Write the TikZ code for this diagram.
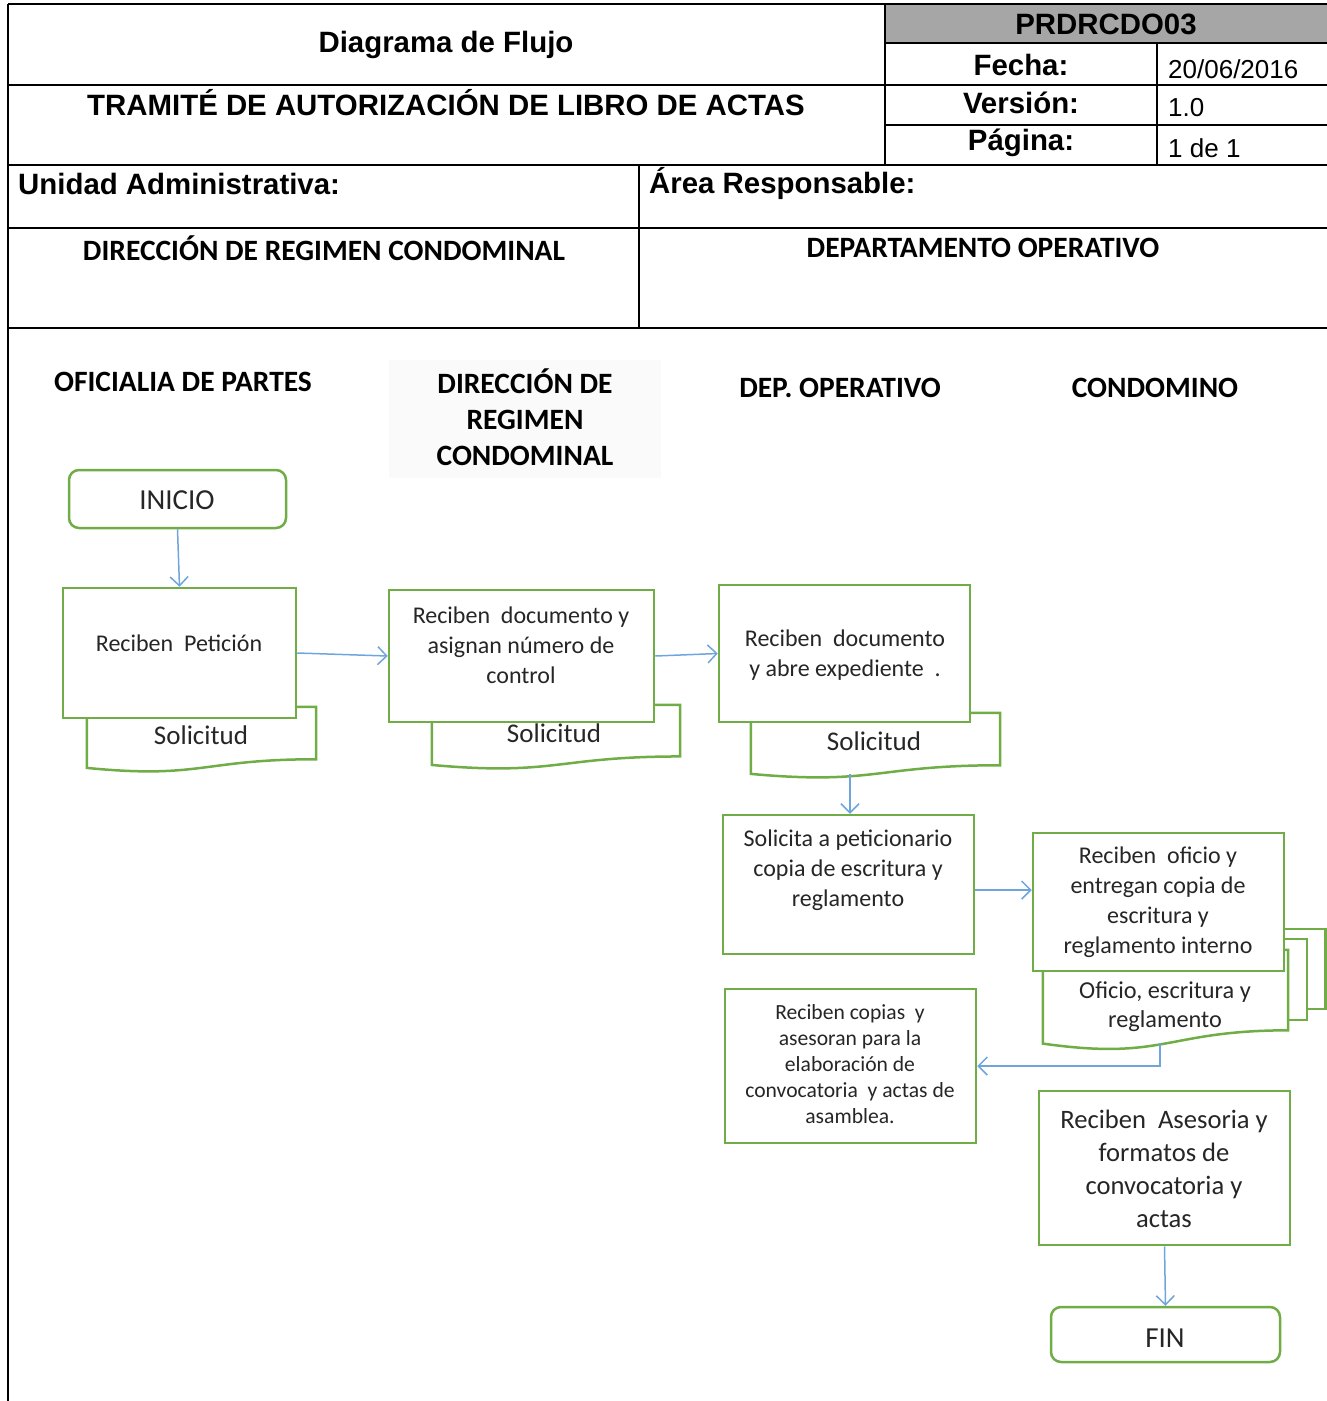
\documentclass[tikz,border=0pt]{standalone}
\usepackage{fontspec}
\setmainfont{Carlito}
\newfontfamily\arialf{Liberation Sans}
\usetikzlibrary{arrows.meta,calc}
\definecolor{fgreen}{RGB}{112,173,71}
\definecolor{fblue}{RGB}{110,165,220}
\definecolor{hgray}{RGB}{166,166,166}
\newcommand{\drawdoc}[1]{%
  \draw[docline] (#1.north west) -- (#1.north east)
    -- ($(#1.north east)!0.802!(#1.south east)$)
    .. controls ($(#1.north)!0.802!(#1.south)$) and ($(#1.north)!1.1075!(#1.south)$)
    .. ($(#1.north west)!0.934!(#1.south west)$) -- cycle;}
\tikzset{
  hline/.style={line width=2.2pt, draw=black},
  box/.style={rectangle, draw=fgreen, line width=2.5pt, fill=white, inner sep=0pt},
  term/.style={box, rounded corners=10pt},
  docbox/.style={rectangle, inner sep=0pt, draw=none},
  docline/.style={draw=fgreen, line width=2.5pt, fill=white},
  arr/.style={draw=fblue, line width=1.5pt, -{Straight Barb[length=9pt,width=18pt]}},
  btxt/.style={align=center, inner sep=0pt, text=black!85, font=\fontsize{24}{30}\selectfont},
  htxt/.style={inner sep=0pt, font=\arialf\bfseries\fontsize{29.4}{33}\selectfont},
  vtxt/.style={inner sep=0pt, anchor=west, font=\arialf\fontsize{26}{30}\selectfont},
  ctxt/.style={inner sep=0pt, font=\bfseries\fontsize{29.5}{30}\selectfont},
  coltxt/.style={inner sep=0pt, align=center, font=\bfseries\fontsize{29.5}{36}\selectfont}
}
\begin{document}
\begin{tikzpicture}[x=1pt,y=-1pt]
\useasboundingbox (0,0) rectangle (1327,1401);
% ---------- header table ----------
\fill[hgray] (885,4) rectangle (1327,43);
\draw[hline] (8,4) -- (1327,4);
\draw[hline] (8,4) -- (8,1401);
\draw[hline] (885,43) -- (1327,43);
\draw[hline] (8,85) -- (1327,85);
\draw[hline] (885,125) -- (1327,125);
\draw[hline] (8,165) -- (1327,165);
\draw[hline] (8,228) -- (1327,228);
\draw[hline] (8,328) -- (1327,328);
\draw[hline] (885,4) -- (885,165);
\draw[hline] (1157,43) -- (1157,165);
\draw[hline] (639,165) -- (639,328);
\node[htxt] (h1) at (446,45) {Diagrama de Flujo};
\node[htxt] (h2) at (446,103) {TRAMITÉ DE AUTORIZACIÓN DE LIBRO DE ACTAS};
\node[htxt] (h3) at (1106,24) {PRDRCDO03};
\node[htxt] (h4) at (1021,65) {Fecha:};
\node[htxt] (h5) at (1021,103) {Versión:};
\node[htxt] (h6) at (1021,143) {Página:};
\node[vtxt] (v1) at (1168,69) {20/06/2016};
\node[vtxt] (v2) at (1168,108) {1.0};
\node[vtxt] (v3) at (1168,148) {1 de 1};
\node[htxt, anchor=west] (h7) at (18,184) {Unidad Administrativa:};
\node[htxt, anchor=west] (h8) at (649,184) {Área Responsable:};
\node[ctxt] (c1) at (324,248) {DIRECCIÓN DE REGIMEN CONDOMINAL};
\node[ctxt] (c2) at (983,248) {DEPARTAMENTO OPERATIVO};
% ---------- lane titles ----------
\node[coltxt] (l1) at (183,382) {OFICIALIA DE PARTES};
\fill[black!2] (389,360) rectangle (661,478);
\node[coltxt] (l2) at (525,417) {DIRECCIÓN DE\\REGIMEN\\CONDOMINAL};
\node[coltxt] (l3) at (840,388) {DEP. OPERATIVO};
\node[coltxt] (l4) at (1155,388) {CONDOMINO};
% ---------- documents (behind boxes) ----------
\node[docbox, minimum width=229pt, minimum height=65pt] (d1) at (201.5,739.5) {};
\drawdoc{d1}
\node[docbox, minimum width=248pt, minimum height=64pt] (d2) at (556,737) {};
\drawdoc{d2}
\node[docbox, minimum width=249pt, minimum height=65pt] (d3) at (875.5,745.5) {};
\drawdoc{d3}
\node[box, minimum width=262.5pt, minimum height=80pt] (m1) at (1194.25,969) {};
\node[box, minimum width=254pt, minimum height=81pt] (m2) at (1180,979.5) {};
\node[docbox, minimum width=245pt, minimum height=100pt] (d5) at (1165.5,1000) {};
\drawdoc{d5}
\node[btxt, font=\fontsize{27}{30}\selectfont] (d1t) at (201,735) {Solicitud};
\node[btxt, font=\fontsize{27}{30}\selectfont] (d2t) at (554,733) {Solicitud};
\node[btxt, font=\fontsize{27}{30}\selectfont] (d3t) at (874,741) {Solicitud};
\node[btxt, font=\fontsize{24.3}{29}\selectfont] (d5t) at (1165,1007) {Oficio, escritura y\\reglamento};
% ---------- process boxes ----------
\node[term, minimum width=217pt, minimum height=58pt] (b0) at (177.5,499) {};
\node[btxt, font=\fontsize{29}{30}\selectfont] (b0t) at (177,500) {INICIO};
\node[box, minimum width=233pt, minimum height=130pt] (b1) at (179.5,653) {};
\node[btxt] (b1t) at (179,643) {Reciben\ \ Petición};
\node[box, minimum width=265pt, minimum height=132pt] (b2) at (521.5,656) {};
\node[btxt] (b2t) at (521,645) {Reciben\ \ documento y\\asignan número de\\control};
\node[box, minimum width=251pt, minimum height=137pt] (b3) at (844.5,653.5) {};
\node[btxt] (b3t) at (845,655) {Reciben\ \ documento\\y abre expediente\ \ .};
\node[box, minimum width=251pt, minimum height=139pt] (b4) at (848.5,884.5) {};
\node[btxt] (b4t) at (848,870) {Solicita a peticionario\\copia de escritura y\\reglamento};
\node[box, minimum width=251pt, minimum height=138pt] (b5) at (1158.5,902) {};
\node[btxt] (b5t) at (1158,902.5) {Reciben\ \ oficio y\\entregan copia de\\escritura y\\reglamento interno};
\node[box, minimum width=251pt, minimum height=154pt] (b6) at (850.5,1066) {};
\node[btxt, font=\fontsize{21.6}{26}\selectfont] (b6t) at (850,1064) {Reciben copias\ \ y\\asesoran para la\\elaboración de\\convocatoria\ \ y actas de\\asamblea.};
\node[box, minimum width=251pt, minimum height=154pt] (b7) at (1164.5,1168) {};
\node[btxt, font=\fontsize{26.6}{33}\selectfont] (b7t) at (1164,1169) {Reciben\ \ Asesoria y\\formatos de\\convocatoria y\\actas};
\node[term, minimum width=229pt, minimum height=55pt] (fin) at (1165.5,1334.5) {};
\node[btxt, font=\fontsize{29}{30}\selectfont] (fint) at (1165,1338) {FIN};
% ---------- connectors ----------
\coordinate (d3b) at (850,774);
\coordinate (d5b) at (1160,1043);
\coordinate (a5) at (0,890);
\draw[arr] (b0.south) -- (b1.north);
\draw[arr] (b1.east) -- (b2.west);
\draw[arr] (b2.east) -- (b3.west);
\draw[arr] (d3b) -- (d3b |- b4.north);
\draw[arr] (b4.east |- a5) -- (b5.west |- a5);
\draw[arr] (d5b) |- (b6.east);
\draw[arr] (b7.south) -- (fin.north);
\end{tikzpicture}
\end{document}
